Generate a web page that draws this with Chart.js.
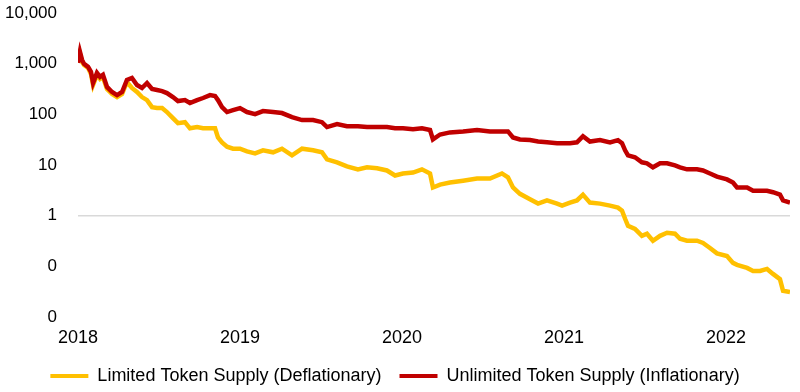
<!DOCTYPE html>
<html>
<head>
<meta charset="utf-8">
<script src="https://cdn.jsdelivr.net/npm/chart.js@4/dist/chart.umd.min.js"></script>
<style>
html,body{margin:0;padding:0;background:#fff;}
#wrap{width:800px;height:392px;position:relative;}
</style>
</head>
<body>
<div id="wrap"><canvas id="c" width="800" height="392"></canvas></div>
<script>
// decimal year of each observation
const dates = [2018.000,2018.012,2018.025,2018.037,2018.062,2018.080,2018.093,2018.117,2018.136,2018.154,
2018.179,2018.210,2018.241,2018.272,2018.302,2018.333,2018.364,2018.395,2018.426,2018.457,
2018.488,2018.519,2018.549,2018.586,2018.617,2018.660,2018.691,2018.735,2018.772,2018.815,
2018.846,2018.864,2018.889,2018.920,2018.957,2019.000,2019.043,2019.093,2019.142,2019.204,
2019.259,2019.321,2019.383,2019.451,2019.506,2019.537,2019.599,2019.660,2019.728,2019.784,
2019.846,2019.907,2019.957,2020.006,2020.068,2020.123,2020.173,2020.191,2020.235,2020.296,
2020.377,2020.463,2020.543,2020.617,2020.654,2020.685,2020.728,2020.790,2020.840,2020.895,
2020.957,2020.988,2021.037,2021.080,2021.117,2021.160,2021.222,2021.284,2021.333,2021.358,
2021.377,2021.395,2021.438,2021.481,2021.512,2021.549,2021.593,2021.636,2021.685,2021.716,
2021.759,2021.821,2021.858,2021.901,2021.944,2022.006,2022.043,2022.068,2022.130,2022.167,
2022.210,2022.253,2022.290,2022.333,2022.352,2022.395];

const limitedSupply = [1037,1565,1086,946,826,628,380,600,499,547,
316,252,219,252,435,331,276,219,191,139,
133,133,111,84,67,70,53,56,53,53,
53,35,28,23,21,21,18.6,17.0,19.5,17.8,
21,15.5,21,19.5,17.8,12.9,11.3,9.4,8.2,9.0,
8.6,7.8,6.2,6.8,7.1,8.2,6.8,3.6,4.1,4.5,
4.9,5.4,5.4,6.8,5.7,3.6,2.7,2.1,1.73,2.0,
1.73,1.58,1.81,2.0,2.6,1.81,1.73,1.58,1.44,1.26,
0.87,0.63,0.55,0.40,0.44,0.32,0.40,0.46,0.44,0.35,
0.32,0.32,0.29,0.23,0.18,0.16,0.117,0.107,0.093,0.081,
0.081,0.089,0.071,0.056,0.033,0.031];

const unlimitedSupply = [1037,1714,1189,991,864,688,416,657,547,600,
347,276,240,276,477,523,380,331,416,316,
302,288,263,219,183,191,167,191,210,240,
230,191,139,111,121,133,111,101,116,111,
106,88,77,77,70,56,64,58,58,56,
56,56,53,53,51,53,49,32,40,44,
46,49,46,46,46,35,32,31,29,28,
27,27,27,28,37,29,31,28,31,27,
19.5,15.5,14.2,11.3,10.8,9.0,10.8,10.8,9.8,9.0,
8.2,8.2,7.8,6.8,5.9,5.2,4.5,3.6,3.6,3.1,
3.1,3.1,2.9,2.6,2.0,1.81];

const yearTicks = [2018, 2019, 2020, 2021, 2022];
const valueTicks = [0.01, 0.1, 1, 10, 100, 1000, 10000];
const seriesNames = ['Limited Token Supply (Deflationary)', 'Unlimited Token Supply (Inflationary)'];
const seriesColors = ['#FFC000', '#C00000'];

const toPoints = vals => vals.map((v, i) => ({x: dates[i], y: v}));

Chart.defaults.font.family = '"Liberation Sans", Arial, sans-serif';
Chart.defaults.font.size = 18;
Chart.defaults.color = '#000';

new Chart(document.getElementById('c'), {
  type: 'line',
  data: {
    datasets: [
      {label: seriesNames[0], data: toPoints(limitedSupply), borderColor: seriesColors[0], backgroundColor: seriesColors[0], borderWidth: 4.5, pointRadius: 0, tension: 0, order: 1},
      {label: seriesNames[1], data: toPoints(unlimitedSupply), borderColor: seriesColors[1], backgroundColor: seriesColors[1], borderWidth: 4.5, pointRadius: 0, tension: 0, order: 0}
    ]
  },
  options: {
    responsive: false,
    animation: false,
    layout: {padding: {top: 13, right: 10, bottom: -3, left: 0}},
    plugins: {
      tooltip: {enabled: false},
      legend: {
        position: 'bottom',
        labels: {
          boxWidth: 38,
          boxHeight: 4,
          padding: 18,
          font: {size: 18},
          color: '#000',
          generateLabels: chart => chart.data.datasets.map((d, i) => ({
            text: d.label, fillStyle: d.borderColor, strokeStyle: d.borderColor, lineWidth: 0, datasetIndex: i, hidden: false
          }))
        }
      }
    },
    scales: {
      x: {
        type: 'linear',
        min: 2018,
        max: 2022.395,
        grid: {display: false, drawTicks: false},
        border: {display: false},
        afterBuildTicks: s => { s.ticks = yearTicks.map(v => ({value: v})); },
        afterFit: s => { s.height = 32; s.paddingLeft = 0; s.paddingRight = 0; },
        ticks: {padding: 10, maxRotation: 0, autoSkip: false, callback: v => String(v), font: {size: 18}}
      },
      y: {
        type: 'logarithmic',
        min: 0.01,
        max: 10000,
        afterBuildTicks: s => { s.ticks = valueTicks.map(v => ({value: v})); },
        afterFit: s => { s.width = 78; s.paddingTop = 0; s.paddingBottom = 0; },
        grid: {drawTicks: false, color: c => (c.tick && c.tick.value === 1) ? '#d9d9d9' : 'rgba(0,0,0,0)', lineWidth: 1.5},
        border: {display: false},
        ticks: {padding: 21, autoSkip: false, font: {size: 17},
          callback: v => v < 1 ? '0' : Number(v).toLocaleString('en-US')}
      }
    }
  }
});
</script>
</body>
</html>
